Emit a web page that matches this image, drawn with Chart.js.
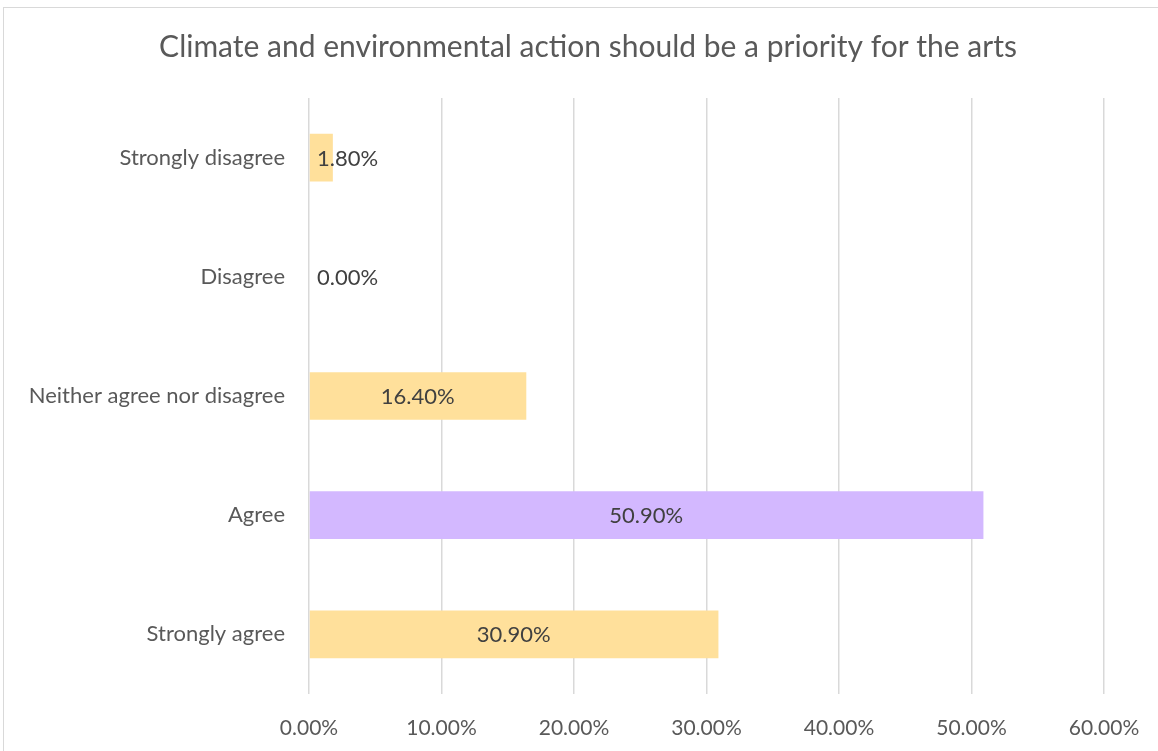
<!DOCTYPE html>
<html>
<head>
<meta charset="utf-8">
<script src="https://cdn.jsdelivr.net/npm/chart.js@4"></script>
<style>
html, body { margin: 0; padding: 0; background: #fff; overflow: hidden; }
#frame { position: absolute; left: 3px; top: 7px; width: 1200px; height: 800px; border: 1px solid #d9d9d9; }
#wrap { position: absolute; left: 0; top: 0; width: 1158px; height: 751px; }
</style>
</head>
<body>
<div id="frame"></div>
<div id="wrap"><canvas id="chart" width="1158" height="751"></canvas></div>
<script>
// ===== dữ liệu =====
let titleText = "Climate and environmental action should be a priority for the arts";
let categories = ["Strongly disagree", "Disagree", "Neither agree nor disagree", "Agree", "Strongly agree"];
let values = [1.8, 0.0, 16.4, 50.9, 30.9];
let barColors = ["#FFE09B", "#FFE09B", "#FFE09B", "#D3B8FF", "#FFE09B"];
let xTicks = [0, 10, 20, 30, 40, 50, 60];

let fontName = "Lato, 'Open Sans', sans-serif";

// tiêu đề (vẽ tay để canh giữa như bản gốc)
let titlePlugin = {
  id: "titleText",
  afterDraw(chart) {
    let ctx = chart.ctx;
    ctx.save();
    ctx.font = "30px " + fontName;
    ctx.fillStyle = "#595959";
    ctx.textAlign = "center";
    ctx.textBaseline = "middle";
    ctx.fillText(titleText, 588, 47);
    ctx.restore();
  }
};

// nhãn giá trị trên thanh
let labelPlugin = {
  id: "barLabels",
  afterDatasetsDraw(chart) {
    let ctx = chart.ctx;
    let meta = chart.getDatasetMeta(0);
    let x0 = chart.scales.x.getPixelForValue(0);
    ctx.save();
    ctx.font = "22px " + fontName;
    ctx.fillStyle = "#404040";
    ctx.textAlign = "center";
    ctx.textBaseline = "middle";
    meta.data.forEach((bar, i) => {
      let txt = values[i].toFixed(2) + "%";
      let w = ctx.measureText(txt).width;
      let cx = Math.max((x0 + bar.x) / 2, x0 + w / 2 + 8);
      ctx.fillText(txt, cx, bar.y + 1);
    });
    ctx.restore();
  }
};

let chart = new Chart(document.getElementById("chart"), {
  type: "bar",
  data: {
    labels: categories,
    datasets: [{
      data: values,
      backgroundColor: barColors,
      borderWidth: 0,
      barPercentage: 0.8,
      categoryPercentage: 0.5
    }]
  },
  options: {
    indexAxis: "y",
    responsive: false,
    animation: false,
    layout: { padding: { top: 98, right: 0, bottom: 0, left: 0 } },
    plugins: {
      legend: { display: false },
      tooltip: { enabled: false },
      title: { display: false }
    },
    scales: {
      x: {
        min: 0,
        max: 60,
        afterBuildTicks(axis) { axis.ticks = xTicks.map(v => ({ value: v })); },
        afterFit(axis) { axis.height = 57; axis.paddingRight = 54; },
        grid: { color: "#d9d9d9", lineWidth: 1.5, drawTicks: false },
        border: { display: false },
        ticks: {
          color: "#595959",
          font: { family: fontName, size: 21 },
          padding: 22,
          callback: v => v.toFixed(2) + "%"
        }
      },
      y: {
        afterFit(axis) { axis.width = 309; },
        grid: { display: false },
        border: { display: false },
        ticks: {
          color: "#595959",
          font: { family: fontName, size: 22 },
          padding: 16
        }
      }
    }
  },
  plugins: [labelPlugin, titlePlugin]
});
</script>
</body>
</html>
